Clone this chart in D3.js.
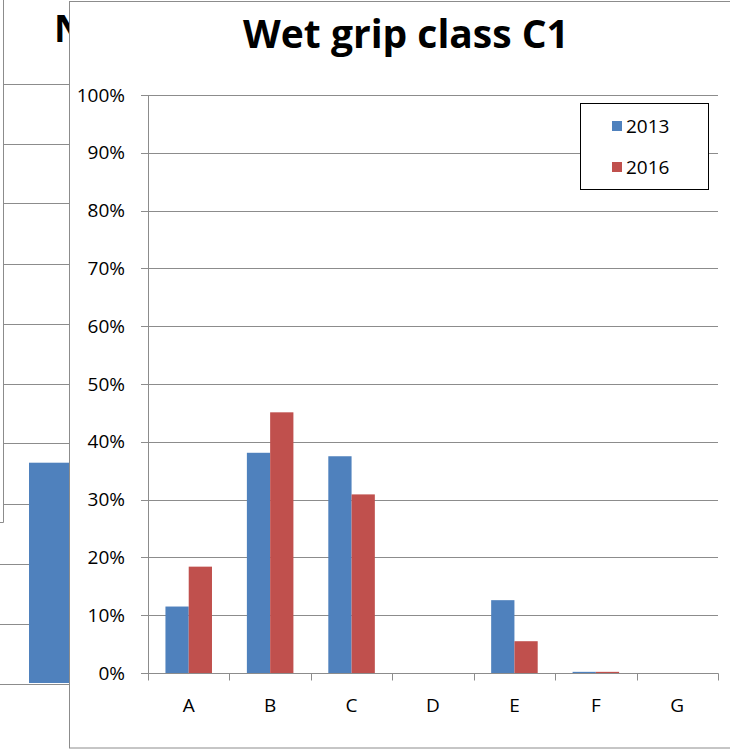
<!DOCTYPE html>
<html>
<head>
<meta charset="utf-8">
<script src="https://cdnjs.cloudflare.com/ajax/libs/d3/7.8.5/d3.min.js"></script>
<style>
  html, body { margin: 0; padding: 0; background: #fff; }
  svg { display: block; }
</style>
</head>
<body>
<div id="chart"></div>
<script>
// main chart data
const categories = ["A", "B", "C", "D", "E", "F", "G"];
const seriesNames = ["2013", "2016"];
const values2013 = [11.5, 38.1, 37.5, 0, 12.6, 0.2, 0];
const values2016 = [18.4, 45.1, 30.9, 0, 5.5, 0.2, 0];
const yTickValues = [0, 10, 20, 30, 40, 50, 60, 70, 80, 90, 100];
const colors = ["#4F81BD", "#C0504D"];

// chart partly hidden behind (only a sliver is visible)
const bgValues = [36.8];
const bgTickValues = [0, 10, 20, 30, 40, 50, 60, 70, 80, 90, 100];

const width = 730, height = 749;
const gridColor = "#8c8c8c";
const font = "'Open Sans', 'DejaVu Sans', sans-serif";

const svg = d3.select("#chart").append("svg")
  .attr("width", width)
  .attr("height", height)
  .style("font-family", font);

// ---- background chart ----
const bg = svg.append("g").attr("id", "bg_chart");
const yBg = d3.scaleLinear().domain([0, 100]).range([683.5, 83.5]);

bg.selectAll(".bg_grid").data(bgTickValues).enter()
  .append("line")
  .attr("class", "bg_grid")
  .attr("x1", d => yBg(d) < 522 ? 4 : 0).attr("x2", 80)
  .attr("y1", d => Math.round(yBg(d)) + 0.5)
  .attr("y2", d => Math.round(yBg(d)) + 0.5)
  .attr("stroke", gridColor);

bg.append("line")
  .attr("x1", 3.5).attr("x2", 3.5).attr("y1", 0).attr("y2", 522.5)
  .attr("stroke", gridColor);
bg.append("line")
  .attr("x1", 0).attr("x2", 3.5).attr("y1", 522.5).attr("y2", 522.5)
  .attr("stroke", gridColor);

bg.selectAll(".bg_bar").data(bgValues).enter()
  .append("rect")
  .attr("class", "bg_bar")
  .attr("x", 29).attr("width", 60)
  .attr("y", d => yBg(d))
  .attr("height", d => yBg(0) - yBg(d) - 0.5)
  .attr("fill", colors[0]);

bg.append("text")
  .attr("x", 54).attr("y", 42)
  .style("font-size", "37px").style("font-weight", "bold")
  .attr("fill", "#000")
  .text("N");

// ---- main chart ----
const main = svg.append("g").attr("id", "main_chart");

main.append("rect")
  .attr("x", 69.5).attr("y", 1.5)
  .attr("width", 700).attr("height", 746.5)
  .attr("fill", "#fff")
  .attr("stroke", gridColor);

main.append("text")
  .attr("x", 406).attr("y", 48)
  .attr("text-anchor", "middle")
  .style("font-size", "39px").style("font-weight", "bold")
  .attr("fill", "#000")
  .text("Wet grip class C1");

const x = d3.scaleBand().domain(categories).range([148, 718]);
const xSub = d3.scaleBand().domain(seriesNames)
  .range([0, x.bandwidth()])
  .paddingInner(0).paddingOuter(0.75);
const y = d3.scaleLinear().domain([0, 100]).range([673, 95]);

const px = v => Math.round(v) + 0.5;

// gridlines
main.selectAll(".grid").data(yTickValues.filter(d => d > 0)).enter()
  .append("line")
  .attr("class", "grid")
  .attr("x1", 141).attr("x2", 718)
  .attr("y1", d => px(y(d))).attr("y2", d => px(y(d)))
  .attr("stroke", gridColor);

// y axis
main.append("line")
  .attr("x1", 148.5).attr("x2", 148.5)
  .attr("y1", px(y(100))).attr("y2", px(y(0)))
  .attr("stroke", gridColor);
main.append("line")
  .attr("x1", 141).attr("x2", 148)
  .attr("y1", px(y(0))).attr("y2", px(y(0)))
  .attr("stroke", gridColor);

main.selectAll(".ytick").data(yTickValues).enter()
  .append("text")
  .attr("class", "ytick")
  .attr("x", 125)
  .attr("y", d => y(d))
  .attr("dy", "0.35em")
  .attr("text-anchor", "end")
  .style("font-size", "19px")
  .attr("fill", "#000")
  .text(d => d + "%");

// bars
const seriesData = [values2013, values2016];
seriesData.forEach(function(vals, si) {
  main.selectAll(".bar_" + si).data(vals).enter()
    .append("rect")
    .attr("class", "bar_" + si)
    .attr("x", (d, i) => x(categories[i]) + xSub(seriesNames[si]))
    .attr("width", xSub.bandwidth())
    .attr("y", d => y(d))
    .attr("height", d => y(0) - y(d))
    .attr("fill", colors[si]);
});

// x axis
main.append("line")
  .attr("x1", 148).attr("x2", 718.5)
  .attr("y1", px(y(0))).attr("y2", px(y(0)))
  .attr("stroke", gridColor);

const boundaries = categories.map(c => x(c)).concat([x.range()[1]]);
main.selectAll(".xtick").data(boundaries).enter()
  .append("line")
  .attr("class", "xtick")
  .attr("x1", d => px(d)).attr("x2", d => px(d))
  .attr("y1", px(y(0))).attr("y2", px(y(0)) + 7)
  .attr("stroke", gridColor);

main.selectAll(".xlabel").data(categories).enter()
  .append("text")
  .attr("class", "xlabel")
  .attr("x", d => x(d) + x.bandwidth() / 2)
  .attr("y", 705)
  .attr("dy", "0.35em")
  .attr("text-anchor", "middle")
  .style("font-size", "19px")
  .attr("fill", "#000")
  .text(d => d);

// legend
const legend = main.append("g").attr("id", "legend");
legend.append("rect")
  .attr("x", 580.5).attr("y", 103.5)
  .attr("width", 128).attr("height", 86)
  .attr("fill", "#fff")
  .attr("stroke", "#000");

const legendY = d3.scalePoint().domain(seriesNames).range([126, 167]);
const items = legend.selectAll(".legend_item").data(seriesNames).enter()
  .append("g").attr("class", "legend_item");
items.append("rect")
  .attr("x", 612).attr("y", d => legendY(d) - 5)
  .attr("width", 10).attr("height", 10)
  .attr("fill", (d, i) => colors[i]);
items.append("text")
  .attr("x", 626).attr("y", d => legendY(d))
  .attr("dy", "0.35em")
  .style("font-size", "19px")
  .attr("fill", "#000")
  .text(d => d);
</script>
</body>
</html>
